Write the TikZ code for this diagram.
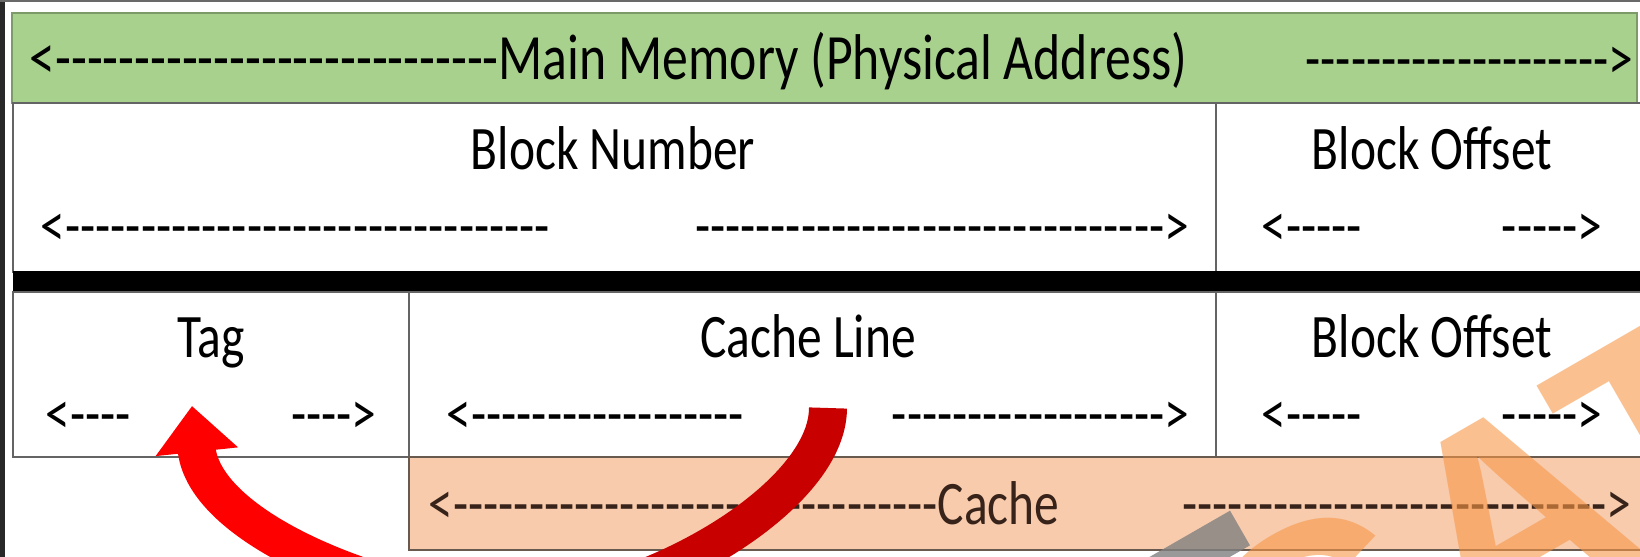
\documentclass[tikz,border=0pt]{standalone}
\usepackage{fontspec}
\setmainfont{Carlito}[FakeStretch=0.8,Ligatures=TeXOff]
\newfontfamily\markfont{Liberation Sans}
\usepackage{xcolor}
\usepackage{tikz}
\usetikzlibrary{arrows.meta}
\definecolor{memgreen}{RGB}{169,209,142}
\definecolor{memgreenline}{RGB}{125,155,105}
\definecolor{cachepeach}{RGB}{248,203,173}
\definecolor{cacheedge}{RGB}{105,90,80}
\definecolor{gridgray}{RGB}{100,100,100}
\definecolor{framedark}{RGB}{40,40,40}
\definecolor{arrowred}{RGB}{255,0,0}
\definecolor{arrowdark}{RGB}{200,0,0}
\definecolor{markorange}{RGB}{247,150,70}
\definecolor{cachetext}{RGB}{55,35,25}

\newcommand\rundash[1]{\foreach\dd in {1,...,#1}{-}}

\tikzset{
  fieldtext/.style={inner sep=0pt,anchor=base},
  leftarrow/.style={inner sep=0pt,anchor=base west},
  rightarrow/.style={inner sep=0pt,anchor=base east},
  gridline/.style={draw=gridgray,line width=0.6pt},
  curvearrow/.style={line width=3.8mm}
}

\begin{document}
\begin{tikzpicture}[x=0.1mm,y=-0.1mm,font=\fontsize{17.6}{20}\selectfont]
    \useasboundingbox (0,0) rectangle (1640,557);
    \clip (0,0) rectangle (1640,557);
    \fill[white] (0,0) rectangle (1640,557);
    \fill[framedark] (0,0) rectangle (5,557);
    \fill[framedark!70] (0,0) rectangle (1640,2);

    \filldraw[fill=memgreen,draw=memgreenline,line width=0.4pt] (12,13) rectangle (1637,103);
    \draw[gridline] (13,103) rectangle (1645,272);
    \draw[gridline] (1216,103) -- (1216,272);
    \fill[black] (13,271) rectangle (1645,292);
    \draw[gridline] (13,292) rectangle (1645,457);
    \draw[gridline] (409,292) -- (409,457);
    \draw[gridline] (1216,292) -- (1216,457);
    \filldraw[fill=cachepeach,draw=cacheedge,line width=0.7pt] (409,457) rectangle (1645,550);

    \node[leftarrow,font=\fontsize{18.4}{20}\selectfont] (mainL) at (29,80) {<\rundash{28}Main Memory (Physical Address)};
    \node[rightarrow] (mainR) at (1634,80) {\rundash{20}>};
    \node[fieldtext] (blocknum) at (613,170) {Block Number};
    \node[leftarrow] (blocknumL) at (40,247) {<\rundash{32}};
    \node[rightarrow] (blocknumR) at (1190,247) {\rundash{31}>};
    \node[fieldtext] (tag) at (211,358) {Tag};
    \node[leftarrow] (tagL) at (45,434) {<\rundash{4}};
    \node[rightarrow] (tagR) at (377,434) {\rundash{4}>};
    \node[fieldtext] (cacheline) at (808,358) {Cache Line};
    \node[leftarrow] (cachelineL) at (446,434) {<\rundash{18}};
    \node[rightarrow] (cachelineR) at (1190,434) {\rundash{18}>};
    \foreach \yb/\ya/\nm in {170/247/top,358/434/bot}{
      \node[fieldtext] (offset\nm) at (1432,\yb) {Block Offset};
      \node[leftarrow] (offset\nm L) at (1261,\ya) {<\rundash{5}};
      \node[rightarrow] (offset\nm R) at (1603,\ya) {\rundash{5}>};
    }
    \node[leftarrow,text=cachetext] (cacheL) at (428,525) {<\rundash{32}Cache};
    \node[rightarrow,text=cachetext] (cacheR) at (1632,525) {\rundash{28}>};

    \coordinate (linefrom) at (828,408);
    \coordinate (dip) at (520,605);
    \coordinate (tagto) at (192,406);
    \draw[curvearrow,arrowdark] (linefrom) .. controls +(0,92) and +(120,0) .. (dip);
    \draw[curvearrow,arrowred,-{Triangle[length=4.6mm,width=8mm]}] (dip) .. controls +(-100,5) and +(14,132) .. (tagto);

    \draw[line width=4mm,gray,opacity=0.8] (1240,528) -- (1080,620);
    \node[inner sep=0pt,anchor=base west,rotate=30,opacity=0.6,text=markorange,
      font=\markfont\bfseries\fontsize{83}{90}\selectfont] (gatemark) at (1274,770) {GATE};
\end{tikzpicture}
\end{document}
